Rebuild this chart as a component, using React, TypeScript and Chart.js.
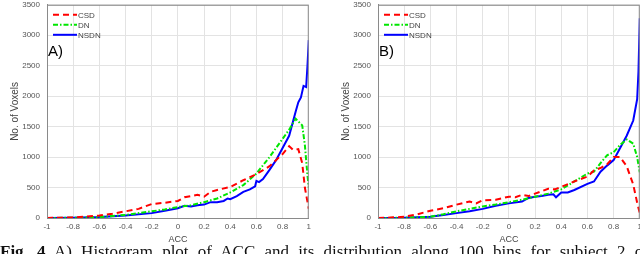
import React, { useEffect, useRef } from "react";
import { Chart, registerables } from "chart.js";

Chart.register(...registerables);

// ---------- Data ----------
const X_TICKS = [-1, -0.8, -0.6, -0.4, -0.2, 0, 0.2, 0.4, 0.6, 0.8, 1];
const Y_TICKS = [0, 500, 1000, 1500, 2000, 2500, 3000, 3500];
const SERIES_NAMES = ["CSD", "DN", "NSDN"];

// Panel A
const A_CSD_X = [-1, -0.9, -0.8, -0.7, -0.6, -0.5, -0.4, -0.3, -0.2, -0.1, 0, 0.05, 0.1, 0.15, 0.2, 0.25, 0.3, 0.4, 0.5, 0.6, 0.7, 0.8, 0.85, 0.88, 0.92, 0.95, 0.97, 1];
const A_CSD_Y = [0, 5, 10, 25, 40, 70, 110, 150, 230, 250, 280, 340, 360, 380, 350, 430, 460, 510, 620, 720, 850, 1050, 1180, 1120, 1130, 900, 500, 150];

const A_DN_X = [-1, -0.8, -0.6, -0.4, -0.2, -0.1, 0, 0.1, 0.2, 0.3, 0.4, 0.5, 0.6, 0.7, 0.8, 0.85, 0.9, 0.95, 0.97, 0.99, 1];
const A_DN_Y = [0, 5, 15, 50, 110, 140, 180, 210, 260, 320, 420, 540, 730, 1000, 1300, 1450, 1630, 1520, 1200, 700, 500];

const A_NSDN_X = [-1, -0.8, -0.6, -0.4, -0.2, -0.1, 0, 0.05, 0.1, 0.15, 0.2, 0.25, 0.3, 0.35, 0.38, 0.4, 0.45, 0.5, 0.55, 0.59, 0.6, 0.62, 0.65, 0.7, 0.75, 0.8, 0.85, 0.9, 0.92, 0.94, 0.96, 0.98, 0.99, 1];
const A_NSDN_Y = [0, 5, 15, 40, 80, 120, 160, 200, 190, 210, 220, 260, 260, 280, 320, 310, 360, 430, 470, 520, 610, 590, 640, 790, 950, 1150, 1350, 1750, 1900, 1980, 2170, 2150, 2500, 2920];

// Panel B
const B_CSD_X = [-1, -0.9, -0.8, -0.7, -0.6, -0.5, -0.4, -0.3, -0.25, -0.2, -0.1, 0, 0.05, 0.1, 0.15, 0.2, 0.3, 0.35, 0.4, 0.5, 0.6, 0.65, 0.7, 0.75, 0.8, 0.85, 0.9, 0.95, 0.98, 1];
const B_CSD_Y = [0, 8, 20, 60, 120, 160, 220, 270, 240, 290, 300, 350, 340, 380, 360, 400, 480, 470, 510, 600, 680, 780, 820, 880, 1000, 1000, 850, 550, 250, 80];

const B_DN_X = [-1, -0.8, -0.6, -0.5, -0.4, -0.3, -0.2, -0.1, 0, 0.1, 0.2, 0.3, 0.4, 0.5, 0.6, 0.65, 0.7, 0.75, 0.8, 0.85, 0.9, 0.95, 0.98, 1];
const B_DN_Y = [0, 5, 20, 60, 110, 150, 190, 220, 260, 300, 350, 400, 470, 600, 730, 760, 900, 1030, 1080, 1200, 1290, 1220, 1000, 750];

const B_NSDN_X = [-1, -0.8, -0.6, -0.5, -0.4, -0.3, -0.2, -0.1, 0, 0.1, 0.15, 0.2, 0.25, 0.3, 0.34, 0.36, 0.4, 0.45, 0.5, 0.6, 0.65, 0.7, 0.75, 0.8, 0.85, 0.9, 0.95, 0.98, 0.99, 1];
const B_NSDN_Y = [0, 5, 20, 50, 80, 110, 150, 200, 240, 270, 330, 350, 360, 380, 390, 340, 420, 420, 460, 560, 600, 760, 860, 950, 1150, 1350, 1600, 1950, 2400, 3280];

const CAPTION_BOLD = "Fig. 4";
const CAPTION_REST = " A) Histogram plot of ACC and its distribution along 100 bins for subject 2 of";

// ---------- Styles ----------
const STYLES = [
  { color: "#ff0000", dash: [6, 4] },
  { color: "#00e600", dash: [5, 2, 1.5, 2] },
  { color: "#0000ff", dash: [] as number[] },
];
const GRID = "#e3e3e3";
const AXIS = "#8a8a8a";
const TICK = "#555555";
const FONT = "'Liberation Sans', Arial, sans-serif";

type Ser = { x: number[]; y: number[] };

function Panel(props: { left: number; label: string; series: Ser[] }) {
  const ref = useRef<HTMLCanvasElement | null>(null);
  useEffect(() => {
    if (!ref.current) return;
    const label = props.label;
    const overlay = {
      id: "overlay",
      afterDatasetsDraw(chart: any) {
        const ctx = chart.ctx;
        const a = chart.chartArea;
        ctx.save();
        SERIES_NAMES.forEach((n, i) => {
          const y = a.top + 10 + i * 10;
          ctx.beginPath();
          ctx.strokeStyle = STYLES[i].color;
          ctx.lineWidth = 2;
          ctx.setLineDash(STYLES[i].dash);
          ctx.moveTo(a.left + 6, y);
          ctx.lineTo(a.left + 30, y);
          ctx.stroke();
          ctx.setLineDash([]);
          ctx.fillStyle = "#444";
          ctx.font = `8px ${FONT}`;
          ctx.textBaseline = "middle";
          ctx.textAlign = "left";
          ctx.fillText(n, a.left + 31, y + 0.5);
        });
        ctx.fillStyle = "#000";
        ctx.font = `15px ${FONT}`;
        ctx.textBaseline = "middle";
        ctx.fillText(label, a.left + 1, a.top + 47);
        ctx.restore();
      },
    };
    const chart = new Chart(ref.current, {
      type: "line",
      data: {
        datasets: props.series.map((s, i) => ({
          label: SERIES_NAMES[i],
          data: s.x.map((x, j) => ({ x, y: s.y[j] })),
          borderColor: STYLES[i].color,
          borderDash: STYLES[i].dash,
          borderWidth: 2,
          pointRadius: 0,
          tension: 0,
          fill: false,
        })),
      },
      options: {
        responsive: false,
        animation: false,
        layout: { padding: { top: 0, right: 2, left: 0, bottom: 0 } },
        plugins: { legend: { display: false }, tooltip: { enabled: false } },
        scales: {
          x: {
            type: "linear",
            min: -1,
            max: 1,
            afterBuildTicks: (s: any) => {
              s.ticks = X_TICKS.map((v) => ({ value: v }));
            },
            afterFit: (s: any) => {
              s.height = 30;
            },
            ticks: {
              color: TICK,
              font: { family: FONT, size: 8 },
              padding: 4,
              maxRotation: 0,
              autoSkip: false,
              callback: (v: any) => String(Math.round(Number(v) * 10) / 10),
            },
            grid: { color: GRID, drawTicks: false },
            border: { color: AXIS, width: 1 },
            title: {
              display: true,
              text: "ACC",
              color: "#444",
              font: { family: FONT, size: 9 },
              padding: { top: 0, bottom: 3 },
            },
          },
          y: {
            type: "linear",
            min: 0,
            max: 3500,
            afterBuildTicks: (s: any) => {
              s.ticks = Y_TICKS.map((v) => ({ value: v }));
            },
            afterFit: (s: any) => {
              s.width = 47;
            },
            ticks: {
              color: TICK,
              font: { family: FONT, size: 8 },
              padding: 7,
              autoSkip: false,
              callback: (v: any) => String(v),
            },
            grid: { color: GRID, drawTicks: false },
            border: { color: AXIS, width: 1 },
            title: {
              display: true,
              text: "No. of Voxels",
              color: "#444",
              font: { family: FONT, size: 10 },
              padding: { top: 9, bottom: 0 },
            },
          },
        },
      },
      plugins: [
        overlay,
        {
          id: "box",
          afterDraw(chart: any) {
            const a = chart.chartArea;
            const ctx = chart.ctx;
            ctx.save();
            ctx.strokeStyle = AXIS;
            ctx.lineWidth = 1;
            ctx.strokeRect(a.left + 0.5, a.top + 0.5, a.right - a.left - 1, a.bottom - a.top);
            ctx.restore();
          },
        },
      ],
    } as any);
    return () => chart.destroy();
  }, []);
  return (
    <canvas
      ref={ref}
      width={315}
      height={255}
      style={{ position: "absolute", left: props.left, top: -7, width: 315, height: 255 }}
    />
  );
}

export default function App() {
  const seriesA: Ser[] = [
    { x: A_CSD_X, y: A_CSD_Y },
    { x: A_DN_X, y: A_DN_Y },
    { x: A_NSDN_X, y: A_NSDN_Y },
  ];
  const seriesB: Ser[] = [
    { x: B_CSD_X, y: B_CSD_Y },
    { x: B_DN_X, y: B_DN_Y },
    { x: B_NSDN_X, y: B_NSDN_Y },
  ];
  return (
    <div
      style={{
        position: "fixed",
        left: 0,
        top: 0,
        width: 640,
        height: 254,
        overflow: "hidden",
        background: "#fff",
      }}
    >
      <Panel left={0} label="A)" series={seriesA} />
      <Panel left={331} label="B)" series={seriesB} />
      <div
        style={{
          position: "absolute",
          left: 0,
          top: 243,
          whiteSpace: "nowrap",
          fontFamily: "'Liberation Serif', 'Times New Roman', serif",
          fontSize: 17,
          lineHeight: "17px",
          wordSpacing: 5,
          color: "#111",
        }}
      >
        <b>{CAPTION_BOLD}</b>
        {CAPTION_REST}
      </div>
    </div>
  );
}
